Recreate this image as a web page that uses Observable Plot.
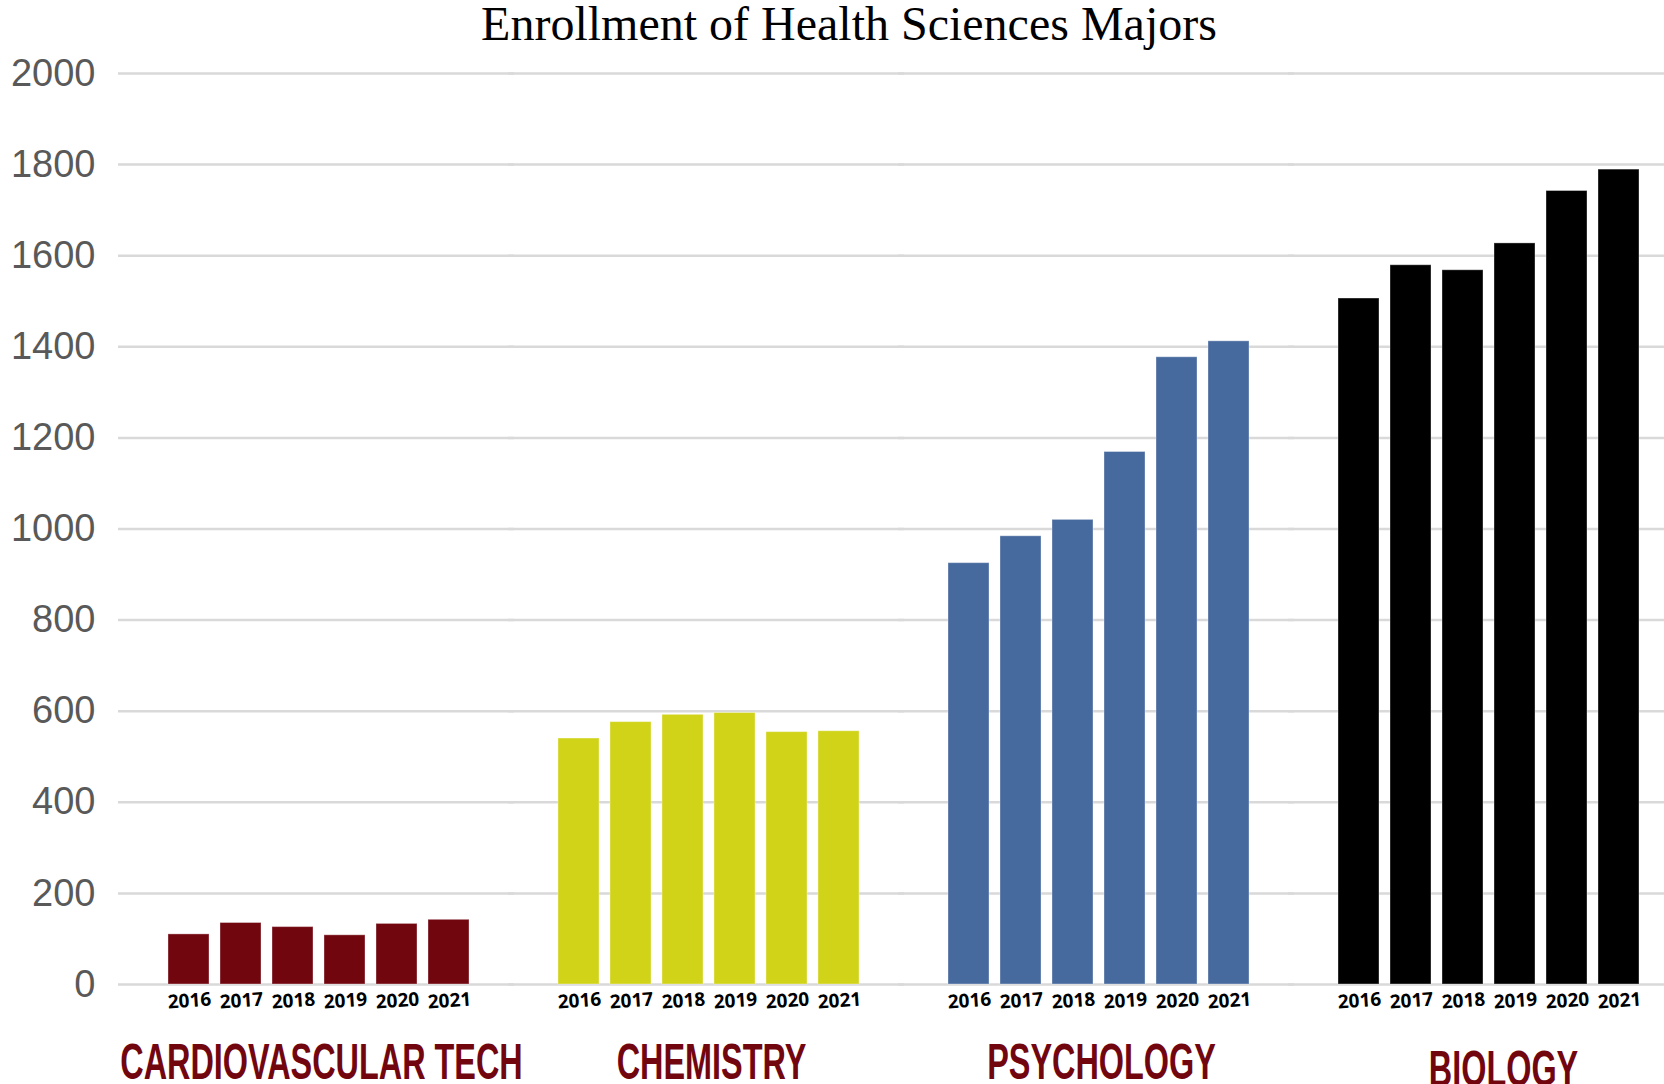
<!DOCTYPE html>
<html>
<head>
<meta charset="utf-8">
<script src="https://cdn.jsdelivr.net/npm/d3@7"></script>
<script src="https://cdn.jsdelivr.net/npm/@observablehq/plot@0.6"></script>
<style>
  html, body { margin: 0; padding: 0; background: #ffffff; overflow: hidden; }
  #title {
    width: 1664px; height: 50px; line-height: 48px; box-sizing: border-box;
    padding-left: 34px; text-align: center;
    font-family: "Liberation Serif", "Times New Roman", serif; font-size: 48px; color: #000;
    white-space: nowrap;
  }
  #chart svg { display: block; }
</style>
</head>
<body>
<div id="title">Enrollment of Health Sciences Majors</div>
<div id="chart"></div>
<script>
const majors = ["CARDIOVASCULAR TECH", "CHEMISTRY", "PSYCHOLOGY", "BIOLOGY"];
const years = ["2016", "2017", "2018", "2019", "2020", "2021"];
const cardiovascular = [110, 135, 126, 108, 133, 142];
const chemistry = [540, 576, 592, 596, 554, 556];
const psychology = [925, 984, 1020, 1169, 1377, 1412];
const biology = [1506, 1579, 1568, 1627, 1742, 1789];
const yTicks = [0, 200, 400, 600, 800, 1000, 1200, 1400, 1600, 1800, 2000];
const colors = ["#72060f", "#d0d318", "#46699e", "#000000"];

const series = [cardiovascular, chemistry, psychology, biology];
const data = [];
majors.forEach((m, i) => years.forEach((yr, j) => data.push({major: m, year: yr, value: series[i][j]})));

const W = 1664, H = 1034;
const plot = Plot.plot({
  width: W,
  height: H,
  marginLeft: 116,
  marginRight: 0,
  marginTop: 23,
  marginBottom: 100,
  style: {fontFamily: "'Liberation Sans', Arial, sans-serif", background: "#ffffff", overflow: "visible"},
  fx: {domain: majors, range: [122, 1685], paddingInner: 0, paddingOuter: 0, label: null},
  x: {domain: years, paddingInner: 0.21, paddingOuter: 0.79, label: null},
  y: {domain: [0, 2000], label: null},
  color: {domain: majors, range: colors},
  marks: [
    Plot.ruleY(yTicks, {stroke: "#d9d9d9", strokeWidth: 2.5, insetLeft: -6}),
    Plot.barY(data, {fx: "major", x: "year", y: "value", fill: "major", stroke: "#ffffff", strokeOpacity: 0.35, strokeWidth: 1}),
    Plot.axisY(yTicks, {tickSize: 0, tickPadding: 29, fontSize: 38, fill: "#595959", label: null, tickFormat: d => String(d)}),
    Plot.axisX({tickSize: 0, tickPadding: 9, tickRotate: -4, textAnchor: "middle", fontSize: 19, fontWeight: "bold", fontFamily: "'Open Sans', sans-serif", fill: "#000", label: null}),
    Plot.axisFx({anchor: "bottom", tickSize: 0, tickPadding: 59, fontSize: 50, fontWeight: "bold", fill: "#72060f", label: null, dx: 2})
  ]
});
document.getElementById("chart").appendChild(plot);

// condense the category labels; the last one sits slightly lower
const fxLabels = d3.select(plot).selectAll('g[aria-label="fx-axis tick label"] text').nodes();
fxLabels.forEach((node, i) => {
  const t = node.getAttribute("transform") || "";
  const extra = i === fxLabels.length - 1 ? " translate(12,7)" : "";
  node.setAttribute("transform", t + extra + " scale(0.648,1)");
});
</script>
</body>
</html>
